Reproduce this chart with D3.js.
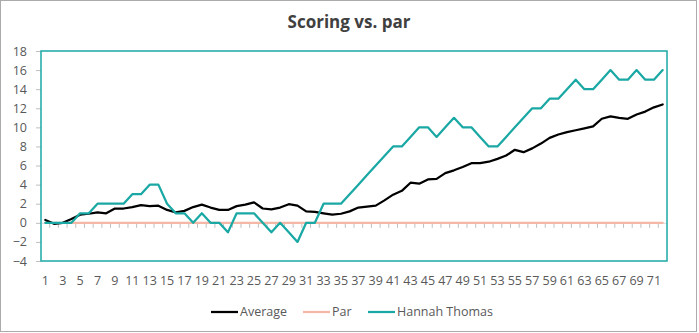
<!DOCTYPE html>
<html>
<head>
<meta charset="utf-8">
<script src="https://cdn.jsdelivr.net/npm/d3@7"></script>
<style>
html,body{margin:0;padding:0;background:#fff;}
svg{display:block;font-family:"Open Sans",sans-serif;}
</style>
</head>
<body>
<svg id="chart" width="699" height="333"></svg>
<script>
const title = "Scoring vs. par";
const rounds = d3.range(1, 73);
const average = [0.3,-0.1,0.0,0.4,0.85,0.95,1.1,1.0,1.5,1.5,1.65,1.85,1.75,1.8,1.35,1.1,1.25,1.65,1.9,1.6,1.35,1.35,1.75,1.9,2.15,1.5,1.4,1.6,1.95,1.8,1.2,1.15,1.0,0.85,0.95,1.2,1.6,1.7,1.8,2.35,2.95,3.35,4.2,4.1,4.55,4.6,5.2,5.5,5.85,6.25,6.25,6.4,6.7,7.05,7.65,7.4,7.8,8.3,8.9,9.25,9.5,9.7,9.9,10.1,10.9,11.15,11.0,10.9,11.35,11.65,12.1,12.4];
const par = rounds.map(() => 0);
const hannah = [0,0,0,0,1,1,2,2,2,2,3,3,4,4,2,1,1,0,1,0,0,-1,1,1,1,0,-1,0,-1,-2,0,0,2,2,2,3,4,5,6,7,8,8,9,10,10,9,10,11,10,10,9,8,8,9,10,11,12,12,13,13,14,15,14,14,15,16,15,15,16,15,15,16];
const yTicks = [-4,-2,0,2,4,6,8,10,12,14,16,18];
const seriesNames = ["Average","Par","Hannah Thomas"];
const seriesColors = ["#000000","#F5B7A6","#1AA8A4"];

const svg = d3.select("#chart");
const L = 41, R = 667, T = 51, B = 261;

svg.append("rect").attr("x",0.5).attr("y",0.5).attr("width",696).attr("height",331)
  .attr("fill","#fff").attr("stroke","#ababab").attr("stroke-width",1);

svg.append("text").attr("x",349).attr("y",28).attr("text-anchor","middle")
  .attr("font-size",17).attr("font-weight","bold").attr("fill","#404040")
  .attr("font-family","'Open Sans',sans-serif").text(title);

const x = d3.scaleBand().domain(rounds).range([L, R]).padding(0);
const y = d3.scaleLinear().domain([-4, 18]).range([B, T]);
const cx = d => x(d) + x.bandwidth()/2;

// y ticks and labels
const yAxis = d3.axisLeft(y).tickValues(yTicks).tickSize(5).tickPadding(9).tickFormat(d3.format("d"));
const gy = svg.append("g").attr("transform",`translate(${L},0)`).call(yAxis);
gy.select(".domain").remove();
gy.selectAll(".tick line").attr("stroke","#bfbfbf");
gy.selectAll(".tick text").attr("fill","#595959").attr("font-size",12.5).attr("font-family","'Open Sans',sans-serif");

// x axis at zero
const xAxis = d3.axisBottom(x).tickValues(rounds.filter(d => d % 2 === 1)).tickSize(0).tickPadding(0);
const gx = svg.append("g").attr("transform",`translate(0,${y(0)})`).call(xAxis);
gx.select(".domain").attr("stroke","#d9d9d9");
gx.selectAll(".tick text").attr("fill","#595959").attr("font-size",12.5)
  .attr("font-family","'Open Sans',sans-serif")
  .attr("y", 281 - y(0)).attr("dy","0.35em");
// tick marks at category boundaries
svg.append("g").selectAll("line").data(rounds.slice(1)).join("line")
  .attr("x1", d => x(d)).attr("x2", d => x(d))
  .attr("y1", y(0)).attr("y2", y(0)+5)
  .attr("stroke","#bfbfbf").attr("stroke-width",1);

// plot border
svg.append("rect").attr("x",L).attr("y",T).attr("width",R-L).attr("height",B-T)
  .attr("fill","none").attr("stroke","#1AA8A4").attr("stroke-width",1.5);

const line = d3.line().x((d,i) => cx(rounds[i])).y(d => y(d));
const data = [average, par, hannah];
[1,0,2].forEach(k => {
  svg.append("path").datum(data[k]).attr("d", line).attr("fill","none")
    .attr("stroke", seriesColors[k]).attr("stroke-width", 2.25)
    .attr("stroke-linejoin","round").attr("stroke-linecap","round");
});

// legend
const legendX = [211, 303, 368];
const lg = svg.append("g");
seriesNames.forEach((n,i) => {
  lg.append("line").attr("x1",legendX[i]).attr("x2",legendX[i]+27).attr("y1",312).attr("y2",312)
    .attr("stroke",seriesColors[i]).attr("stroke-width",2.25);
  lg.append("text").attr("x",legendX[i]+29).attr("y",312).attr("dy","0.35em")
    .attr("font-size",12.5).attr("fill","#595959").attr("font-family","'Open Sans',sans-serif").text(n);
});
</script>
</body>
</html>
